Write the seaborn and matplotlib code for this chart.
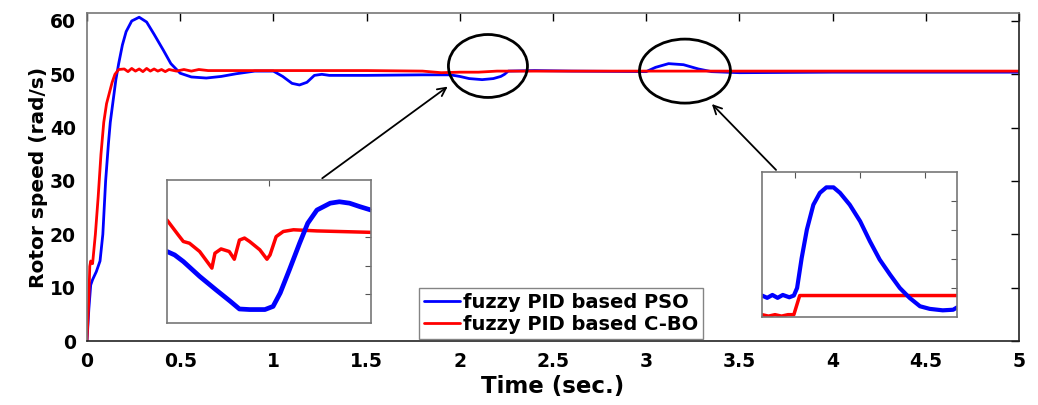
import matplotlib
matplotlib.use("Agg")
import matplotlib.pyplot as plt
import seaborn as sns
from matplotlib.patches import Ellipse

# ---------------- data ----------------
pso_t = [0, 0.01, 0.02, 0.03, 0.05, 0.07, 0.085, 0.10, 0.115, 0.125, 0.14, 0.155, 0.17,
         0.19, 0.21, 0.24, 0.28, 0.32, 0.36, 0.41, 0.45, 0.50, 0.56, 0.64, 0.72, 0.80,
         0.90, 1.00, 1.05, 1.10, 1.14, 1.18, 1.22, 1.26, 1.30, 1.5, 1.8, 1.95, 2.00,
         2.05, 2.12, 2.18, 2.22, 2.24, 2.26, 2.4, 2.6, 3.0, 3.05, 3.12, 3.2, 3.28,
         3.35, 3.5, 4.0, 5.0]
pso_v = [0, 6, 10.5, 11.5, 13, 15, 20, 30, 37, 41, 45, 49, 52,
         55.5, 58, 60, 60.7, 59.8, 57.5, 54.5, 52, 50.2, 49.5, 49.3, 49.6, 50.1,
         50.6, 50.6, 49.6, 48.3, 48.0, 48.5, 49.8, 50.0, 49.8, 49.8, 49.9, 49.9, 49.6,
         49.2, 49.0, 49.2, 49.6, 50.0, 50.6, 50.7, 50.6, 50.5, 51.3, 52.0, 51.8, 51.0,
         50.5, 50.3, 50.4, 50.4]

cbo_t = [0, 0.01, 0.015, 0.02, 0.03, 0.045, 0.06, 0.075, 0.09, 0.105, 0.12, 0.135, 0.15,
         0.17, 0.20, 0.22, 0.24, 0.26, 0.28, 0.30, 0.32, 0.34, 0.36, 0.38, 0.40, 0.42,
         0.44, 0.48, 0.52, 0.56, 0.60, 0.65, 0.8, 1.5, 1.8, 1.9, 2.0, 2.1, 2.2, 2.4, 5.0]
cbo_v = [0, 8, 14, 15, 14.5, 20, 27, 35, 41, 44.5, 46.5, 48.5, 50,
         50.9, 51.0, 50.5, 51.1, 50.6, 51.0, 50.5, 51.1, 50.6, 51.0, 50.6, 50.9, 50.5,
         50.9, 50.6, 50.9, 50.6, 50.9, 50.7, 50.7, 50.7, 50.6, 50.3, 50.4, 50.4, 50.6, 50.6, 50.6]

# inset 1 (zoom around t = 2.0 .. 2.3), local units
in1_pso_x = [0, 0.075, 0.16, 0.32, 0.48, 0.62, 0.71, 0.81, 0.96, 1.04, 1.11, 1.2, 1.3,
             1.38, 1.47, 1.6, 1.69, 1.79, 1.89, 2.0]
in1_pso_y = [2.5, 2.38, 2.15, 1.63, 1.16, 0.76, 0.49, 0.47, 0.47, 0.58, 1.05, 1.86, 2.79,
             3.49, 3.95, 4.19, 4.24, 4.19, 4.07, 3.95]
in1_cbo_x = [0, 0.11, 0.16, 0.22, 0.32, 0.44, 0.47, 0.53, 0.61, 0.66, 0.71, 0.76, 0.81,
             0.91, 0.98, 1.01, 1.07, 1.14, 1.24, 1.47, 2.0]
in1_cbo_y = [3.6, 3.08, 2.85, 2.79, 2.5, 1.92, 2.44, 2.59, 2.5, 2.23, 2.9, 2.97, 2.85,
             2.56, 2.23, 2.38, 3.02, 3.2, 3.26, 3.22, 3.17]

# inset 2 (zoom around t = 3.0 .. 3.4), local units
in2_pso_x = [0, 0.08, 0.16, 0.24, 0.32, 0.42, 0.49, 0.54, 0.61, 0.69, 0.79, 0.89, 0.99,
             1.1, 1.2, 1.35, 1.51, 1.66, 1.81, 1.97, 2.12, 2.27, 2.43, 2.58, 2.78,
             2.94, 3.0]
in2_pso_y = [0.74, 0.66, 0.76, 0.66, 0.76, 0.68, 0.74, 1.0, 2.03, 3.01, 3.87, 4.28, 4.47,
             4.47, 4.28, 3.87, 3.3, 2.61, 1.98, 1.46, 1.0, 0.66, 0.37, 0.28, 0.23,
             0.25, 0.33]
in2_cbo_x = [0, 0.1, 0.2, 0.3, 0.4, 0.49, 0.58, 3.0]
in2_cbo_y = [0.08, 0.03, 0.08, 0.03, 0.08, 0.08, 0.74, 0.74]

x_ticks = [0, 0.5, 1, 1.5, 2, 2.5, 3, 3.5, 4, 4.5, 5]
x_labels = ["0", "0.5", "1", "1.5", "2", "2.5", "3", "3.5", "4", "4.5", "5"]
y_ticks = [0, 10, 20, 30, 40, 50, 60]

BLUE = "#0000FF"
RED = "#FF0000"

# ---------------- plot ----------------
sns.set_theme(style="white")
plt.rcParams["font.family"] = ["DejaVu Sans"]
plt.rcParams["font.weight"] = "bold"
plt.rcParams["text.color"] = "black"
plt.rcParams["axes.labelcolor"] = "black"
plt.rcParams["xtick.color"] = "black"
plt.rcParams["ytick.color"] = "black"

fig = plt.figure(figsize=(10.38, 4.05), dpi=100)
ax = fig.add_axes([0.0838, 0.158, 0.9817 - 0.0838, 0.968 - 0.158])

sns.lineplot(x=pso_t, y=pso_v, ax=ax, color=BLUE, lw=2.0, label="fuzzy PID based PSO")
sns.lineplot(x=cbo_t, y=cbo_v, ax=ax, color=RED, lw=2.0, label="fuzzy PID based C-BO")

ax.set_xlim(0, 5)
ax.set_ylim(0, 61.5)
ax.set_xticks(x_ticks)
ax.set_xticklabels(x_labels)
ax.set_yticks(y_ticks)
ax.tick_params(direction="in", length=6, width=1, top=True, right=True,
               labelsize=13.5, pad=8, colors="black")
for lab in ax.get_xticklabels() + ax.get_yticklabels():
    lab.set_fontweight("bold")
    lab.set_color("black")
for side in ["left", "top"]:
    ax.spines[side].set_color("#777777")
for side in ["bottom", "right"]:
    ax.spines[side].set_color("#222222")
for s in ax.spines.values():
    s.set_linewidth(1.2)

ax.set_xlabel("Time (sec.)", fontsize=16.5, fontweight="bold", labelpad=3, color="black")
ax.set_ylabel("Rotor speed (rad/s)", fontsize=14.5, fontweight="bold", labelpad=1, color="black")

leg = ax.legend(loc="lower left", bbox_to_anchor=(0.356, 0.006), borderaxespad=0,
                fontsize=14, handlelength=1.85, handletextpad=0.15, labelspacing=0.15,
                borderpad=0.25, frameon=True, fancybox=False)
leg.get_frame().set_edgecolor("#666666")
leg.get_frame().set_linewidth(1.0)
for t in leg.get_texts():
    t.set_fontweight("bold")
    t.set_color("black")

# ellipses
ax.add_patch(Ellipse((2.151, 51.56), 0.424, 11.8, fill=False, ec="black", lw=2.0, zorder=5))
ax.add_patch(Ellipse((3.208, 50.6), 0.488, 12.0, fill=False, ec="black", lw=2.0, zorder=5))

# arrows
ax.annotate("", xy=(1.947, 48.0), xytext=(1.25, 30.2),
            arrowprops=dict(arrowstyle="->", color="black", lw=1.3, mutation_scale=15))
ax.annotate("", xy=(3.342, 44.8), xytext=(3.707, 31.7),
            arrowprops=dict(arrowstyle="->", color="black", lw=1.3, mutation_scale=15))

# inset 1
ia1 = fig.add_axes([0.1609, 0.2025, 0.1965, 0.353])
sns.lineplot(x=in1_cbo_x, y=in1_cbo_y, ax=ia1, color=RED, lw=2.5)
sns.lineplot(x=in1_pso_x, y=in1_pso_y, ax=ia1, color=BLUE, lw=3.4)
ia1.set_xlim(0, 2)
ia1.set_ylim(0, 5)
ia1.set_xticks([1])
ia1.set_yticks([1, 2, 3, 4])

# inset 2
ia2 = fig.add_axes([0.7341, 0.2173, 0.1879, 0.358])
sns.lineplot(x=in2_cbo_x, y=in2_cbo_y, ax=ia2, color=RED, lw=2.5)
sns.lineplot(x=in2_pso_x, y=in2_pso_y, ax=ia2, color=BLUE, lw=3.0)
ia2.set_xlim(0, 3)
ia2.set_ylim(0, 5)
ia2.set_xticks([0.5, 1.5, 2.5])
ia2.set_yticks([1, 2, 3, 4])

for ia in (ia1, ia2):
    ia.set_facecolor("white")
    ia.tick_params(direction="in", length=4, width=0.8, top=True, right=True,
                   labelbottom=False, labelleft=False, colors="#555555")
    for s in ia.spines.values():
        s.set_color("#777777")
        s.set_linewidth(1.2)
    ia.set_xlabel("")
    ia.set_ylabel("")

fig.savefig("out.png", dpi=100)
